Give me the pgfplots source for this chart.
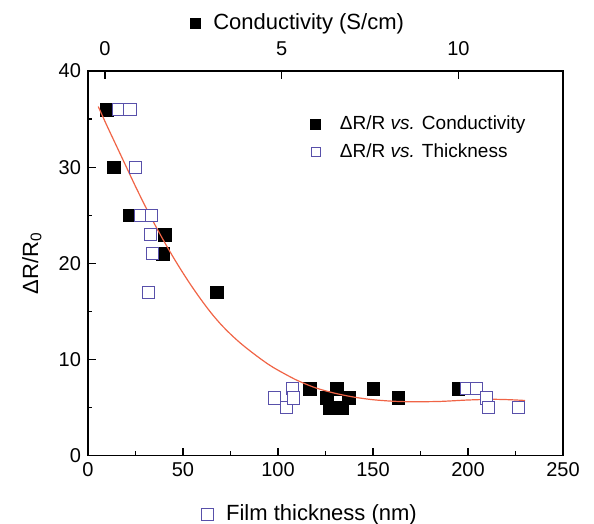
\documentclass[border=0pt]{standalone}
\usepackage{pgfplots}
\pgfplotsset{compat=1.18}
\usepackage{fontspec}
\setmainfont{Liberation Sans}
\definecolor{hol}{RGB}{88,80,170}
\definecolor{fitc}{RGB}{240,100,70}
\begin{document}
\begin{tikzpicture}
\pgfplotsset{every axis/.append style={scale only axis, width=237.5pt, height=192.4pt,
  ymin=0, ymax=40,
  axis line style={line width=0.7pt}, tick style={line width=0.7pt, black},
  major tick length=4pt, minor tick length=2.2pt, tick align=inside,
  /pgf/number format/assume math mode=true,
  tick label style={font=\fontsize{10}{12}\selectfont},
  label style={font=\fontsize{11}{13}\selectfont}}}
\begin{axis}[xmin=-0.48, xmax=12.96, axis x line*=top, axis y line=none,
  axis line style={-}, xtick={0,5,10}, minor x tick num=0,
  xlabel={\rule{5.5pt}{5.5pt}\ \ Conductivity (S/cm)},
  xlabel style={at={(axis description cs:0.44,1.108)}, anchor=base},
  xticklabel style={yshift=4pt}]
\addplot[only marks, mark=square*, mark size=3.2pt, mark options={draw=black, fill=black, line width=0.3pt}] table {
x y
0.05 36
0.24 30
0.71 25
1.70 23
1.63 21
3.16 17
5.80 7
6.56 7
6.27 6
6.89 6
6.37 5
6.70 5
7.59 7
8.30 6
10.0 7
};
\end{axis}
\begin{axis}[xmin=0, xmax=250, xtick={0,50,...,250}, minor x tick num=1,
  ytick={0,10,...,40}, minor y tick num=1, xtick pos=left, ytick pos=left,
  xlabel={\textcolor{hol}{\fboxsep=0pt\fboxrule=0.5pt\fbox{\rule{0pt}{5.5pt}\hspace{5.5pt}}}\ \ Film thickness (nm)},
  xlabel style={at={(axis description cs:0.465,-0.1675)}, anchor=base},
  ylabel={ΔR/R\textsubscript{0}},
  ylabel style={at={(axis description cs:-0.118,0.5)}, anchor=center},
  legend style={draw=none, fill=none, at={(axis description cs:0.453,0.905)}, anchor=north west,
    font=\fontsize{9.5}{11}\selectfont, row sep=1.5pt},
  legend cell align=left,
  legend image code/.code={\path (0,0) (0.45cm,0); \draw[mark repeat=1,#1] plot coordinates {(0.1cm,0cm)};}]
\coordinate (SW) at (rel axis cs:0,0);
\coordinate (NE) at (rel axis cs:1,1);
\addlegendimage{only marks, mark=square*, mark size=2.4pt, mark options={draw=black, fill=black}}
\addlegendentry{ΔR/R \textit{vs.} Conductivity}
\addlegendimage{only marks, mark=square, mark size=2.2pt, mark options={draw=hol, line width=0.5pt}}
\addlegendentry{ΔR/R \textit{vs.} Thickness}
\addplot[only marks, mark=square*, mark size=3.1pt, mark options={draw=hol, fill=white, line width=0.5pt}, forget plot] table {
x y
15.9 36
22.1 36
25.1 30
27.7 25
33.5 25
33.0 23
34.0 21
31.7 17
98.3 6
104.5 5
107.5 7
108 6
199.2 7
204.5 7
209.8 6
210.7 5
226.5 5
};
\addplot[fitc, line width=0.6pt, smooth, no marks, forget plot] coordinates {
(5.4,36.3) (10,34.3) (15,32.2) (20,30.1) (25,28.0) (30,26.0) (35,24.1) (40,22.3)
(45,20.6) (50,19.0) (55,17.5) (60,16.1) (65,14.8) (70,13.65) (75,12.65) (80,11.75)
(85,10.95) (90,10.2) (95,9.5) (100,8.9) (110,7.85) (120,7.05) (130,6.5) (140,6.1)
(150,5.83) (160,5.68) (170,5.62) (185,5.65) (200,5.8) (213,5.87) (222,5.83) (230,5.75)
};
\end{axis}
\pgfresetboundingbox
\path[use as bounding box] ([shift={(-44pt,-34.1pt)}]SW) rectangle ([shift={(15.5pt,35.5pt)}]NE);
\end{tikzpicture}
\end{document}
